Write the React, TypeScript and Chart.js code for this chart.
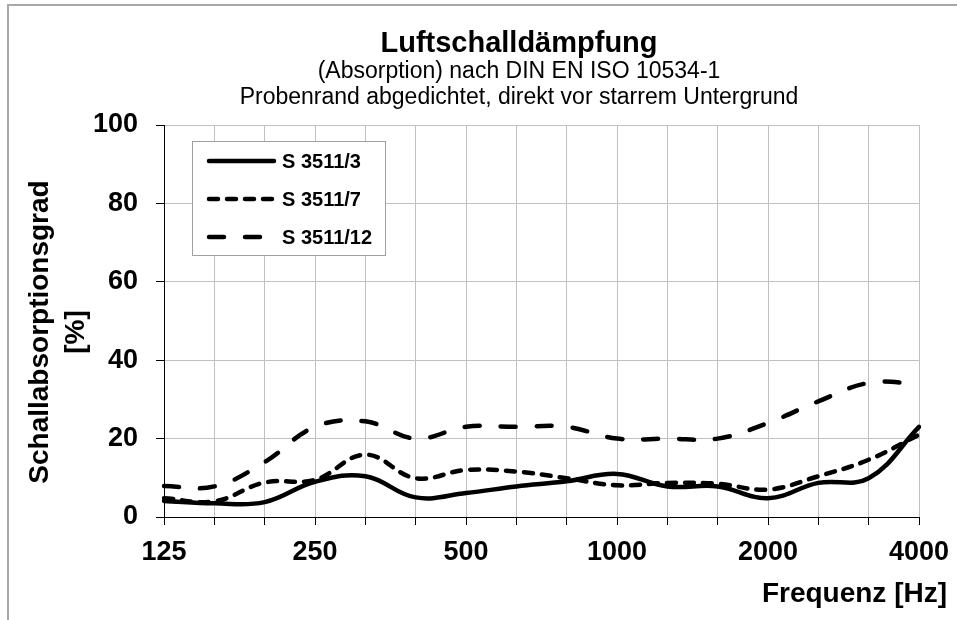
import React, { useEffect, useRef } from 'react';
import { Chart, registerables } from 'chart.js';

Chart.register(...registerables);

const FREQUENCIES = ['125', '160', '200', '250', '315', '400', '500', '630', '800', '1000', '1250', '1600', '2000', '2500', '3150', '4000'];
const LABELED_FREQUENCIES = ['125', '250', '500', '1000', '2000', '4000'];

const S3511_3 = [4.1, 3.5, 3.8, 9.0, 10.4, 5.0, 6.1, 7.8, 9.1, 11.0, 7.8, 7.8, 4.8, 8.7, 9.9, 23.0];
const S3511_7 = [4.8, 4.0, 8.8, 9.5, 15.9, 9.9, 12.0, 11.6, 9.9, 8.1, 8.7, 8.5, 7.0, 10.4, 14.6, 21.0];
const S3511_12 = [7.9, 7.8, 14.0, 23.0, 24.4, 20.0, 23.0, 23.0, 23.0, 20.0, 20.0, 20.0, 24.0, 29.5, 34.2, 34.0];

const SERIES_NAMES = ['S 3511/3', 'S 3511/7', 'S 3511/12'];

const TITLE = 'Luftschalldämpfung';
const SUBTITLES = ['(Absorption) nach DIN EN ISO 10534-1', 'Probenrand abgedichtet, direkt vor starrem Untergrund'];
const Y_TITLE = ['Schallabsorptionsgrad', '[%]'];
const X_TITLE = 'Frequenz [Hz]';

const FONT = "'Liberation Sans', Arial, sans-serif";

const decorPlugin = {
  id: 'decor',
  afterDraw(chart: any) {
    const ctx = chart.ctx as CanvasRenderingContext2D;
    const area = chart.chartArea;
    ctx.save();
    // outer frame (top + left)
    ctx.fillStyle = '#a8a8a8';
    ctx.fillRect(7, 4, 950, 2);
    ctx.fillRect(7, 4, 2, 616);

    // titles
    const cx = 519;
    ctx.fillStyle = '#000';
    ctx.textAlign = 'center';
    ctx.textBaseline = 'alphabetic';
    ctx.font = `bold 29px ${FONT}`;
    ctx.fillText(TITLE, cx, 52);
    ctx.font = `23px ${FONT}`;
    ctx.fillText(SUBTITLES[0], cx, 78);
    ctx.fillText(SUBTITLES[1], cx, 104);

    // y title
    const cy = 332;
    ctx.font = `bold 28px ${FONT}`;
    ctx.save();
    ctx.translate(48, cy);
    ctx.rotate(-Math.PI / 2);
    ctx.fillText(Y_TITLE[0], 0, 0);
    ctx.restore();
    ctx.save();
    ctx.translate(84, cy);
    ctx.rotate(-Math.PI / 2);
    ctx.fillText(Y_TITLE[1], 0, 0);
    ctx.restore();

    // x title
    ctx.textAlign = 'right';
    ctx.fillText(X_TITLE, 947, 602);

    // legend
    const lx = area.left + 28;
    const ly = area.top + 16;
    ctx.fillStyle = '#fff';
    ctx.fillRect(lx + 0.5, ly + 0.5, 193, 114);
    ctx.strokeStyle = '#a0a0a0';
    ctx.lineWidth = 1;
    ctx.strokeRect(lx + 0.5, ly + 0.5, 193, 114);
    const rows = [ly + 20, ly + 58, ly + 96];
    chart.data.datasets.forEach((ds: any, i: number) => {
      ctx.save();
      ctx.strokeStyle = '#000';
      ctx.lineWidth = ds.borderWidth;
      ctx.lineCap = ds.borderCapStyle;
      ctx.setLineDash(ds.borderDash || []);
      ctx.beginPath();
      ctx.moveTo(lx + 17, rows[i]);
      ctx.lineTo(lx + 82, rows[i]);
      ctx.stroke();
      ctx.restore();
      ctx.fillStyle = '#000';
      ctx.textAlign = 'left';
      ctx.textBaseline = 'middle';
      ctx.font = `bold 20px ${FONT}`;
      ctx.fillText(ds.label, lx + 90, rows[i] + 1);
    });
    ctx.restore();
  },
};

export default function App() {
  const ref = useRef<HTMLCanvasElement>(null);
  useEffect(() => {
    if (!ref.current) return;
    const chart = new Chart(ref.current, {
      type: 'line',
      data: {
        labels: FREQUENCIES,
        datasets: [
          {
            label: SERIES_NAMES[0],
            data: S3511_3,
            borderColor: '#000',
            borderWidth: 4.5,
            borderCapStyle: 'round',
            borderJoinStyle: 'round',
            pointRadius: 0,
            tension: 0.4,
            fill: false,
          },
          {
            label: SERIES_NAMES[1],
            data: S3511_7,
            borderColor: '#000',
            borderWidth: 4.5,
            borderDash: [9, 9],
            borderCapStyle: 'round',
            borderJoinStyle: 'round',
            pointRadius: 0,
            tension: 0.4,
            fill: false,
          },
          {
            label: SERIES_NAMES[2],
            data: S3511_12,
            borderColor: '#000',
            borderWidth: 4.5,
            borderDash: [15, 21],
            borderCapStyle: 'round',
            borderJoinStyle: 'round',
            pointRadius: 0,
            tension: 0.4,
            fill: false,
          },
        ],
      },
      options: {
        animation: false,
        responsive: false,
        maintainAspectRatio: false,
        layout: { padding: { left: 0, top: 125, right: 38, bottom: 43 } },
        plugins: {
          legend: { display: false },
          title: { display: false },
          tooltip: { enabled: false },
        },
        scales: {
          x: {
            type: 'category',
            offset: false,
            afterFit: (scale: any) => {
              scale.height = 60;
              scale.paddingRight = 0;
              scale.paddingLeft = 0;
            },
            grid: { color: '#c0c0c0', lineWidth: 1, tickColor: '#000', tickLength: 8, drawOnChartArea: true },
            border: { color: '#000', width: 1 },
            ticks: {
              autoSkip: false,
              maxRotation: 0,
              minRotation: 0,
              padding: 11,
              color: '#000',
              font: { family: FONT, size: 27, weight: 'bold' },
              callback: function (this: any, value: any) {
                const lab = this.getLabelForValue(value);
                return LABELED_FREQUENCIES.includes(lab) ? lab : '';
              },
            },
          },
          y: {
            min: 0,
            max: 100,
            afterFit: (scale: any) => {
              scale.width = 164;
              scale.paddingTop = 0;
              scale.paddingBottom = 0;
            },
            grid: { color: '#c0c0c0', lineWidth: 1, tickColor: '#000', tickLength: 8 },
            border: { color: '#000', width: 1 },
            ticks: {
              stepSize: 20,
              padding: 18,
              color: '#000',
              font: { family: FONT, size: 27, weight: 'bold' },
            },
          },
        },
      },
      plugins: [decorPlugin],
    } as any);
    return () => chart.destroy();
  }, []);
  return (
    <div style={{ position: 'absolute', left: 0, top: 0, width: 957, height: 620, background: '#fff' }}>
      <canvas ref={ref} width={957} height={620} style={{ display: 'block' }} />
    </div>
  );
}
